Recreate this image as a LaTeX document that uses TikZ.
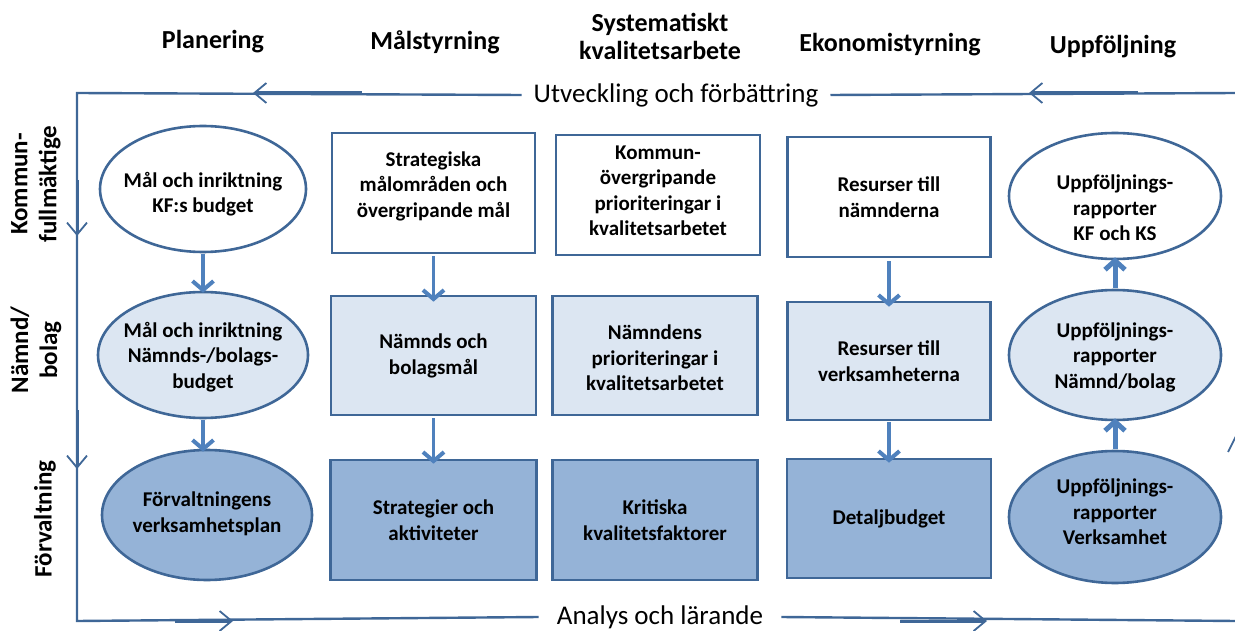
\documentclass[tikz,border=0pt]{standalone}
\usepackage{fontspec}
\setmainfont{Carlito}
\usetikzlibrary{shapes.geometric,arrows.meta}
\definecolor{linec}{HTML}{3F6797}
\definecolor{arrc}{HTML}{4F81BD}
\definecolor{lightf}{HTML}{DCE6F2}
\definecolor{midf}{HTML}{95B3D7}
\tikzset{
  boxtxt/.style={font=\bfseries\fontsize{21}{25.5}\selectfont, align=center, text=black, inner sep=0pt},
  ell/.style={ellipse, draw=linec, line width=2.6pt, inner sep=0pt},
  rbox/.style={rectangle, draw=linec, line width=2.6pt, inner sep=0pt},
  wfill/.style={fill=white},
  lfill/.style={fill=lightf},
  mfill/.style={fill=midf},
  hdr/.style={font=\bfseries\fontsize{26}{28}\selectfont, align=center},
  rowlab/.style={font=\bfseries\fontsize{25}{29}\selectfont, align=center, rotate=90},
  flow/.style={draw=arrc, line width=3.5pt, -{Straight Barb[length=9pt,width=21pt,line width=4pt]}},
  bigflow/.style={draw=arrc, line width=5pt, -{Straight Barb[length=9pt,width=20pt,line width=5pt]}},
  frame/.style={draw=linec, line width=2.4pt},
  framearr/.style={draw=linec, line width=3pt, -{Straight Barb[length=12pt,width=20pt,line width=1.8pt]}},
  looplab/.style={font=\fontsize{27}{30}\selectfont, inner ysep=12pt, inner xsep=18pt}
}
\begin{document}
\begin{tikzpicture}[x=1pt,y=-1pt]
\useasboundingbox (0,0) rectangle (1235,631);

% headers
\node[hdr] (h1) at (213,42) {Planering};
\node[hdr] (h2) at (435,42) {Målstyrning};
\node[hdr] (h3) at (660,36) {Systematiskt\\kvalitetsarbete};
\node[hdr] (h4) at (890,45) {Ekonomistyrning};
\node[hdr] (h5) at (1113,47) {Uppföljning};

% row labels
\node[rowlab] (r1) at (36,184) {Kommun-\\fullmäktige};
\node[rowlab] (r2) at (36,350) {Nämnd/\\bolag};
\node[rowlab] (r3) at (45,519) {Förvaltning};

% frame
\coordinate (tl) at (77,93);
\coordinate (bl) at (77,621);
\coordinate (tr) at (1236,93);
\coordinate (br) at (1236,621);
\node[looplab, inner xsep=12pt] (utv) at (676,95) {Utveckling och förbättring};
\node[looplab] (ana) at (660,617) {Analys och lärande};
\draw[frame] (utv.west) -- (tl) -- (bl) -- (ana.west);
\draw[frame] (utv.east) -- (tr);
\draw[frame] (ana.east) -- (br);
\draw[framearr] (362,93) -- (253,93);
\draw[framearr] (1138,93) -- (1029,93);
\draw[framearr] (175,621) -- (233,621);
\draw[framearr] (900,621) -- (987,621);
\draw[framearr] (77,180) -- (77,236);
\draw[framearr] (77,410) -- (77,469);
\coordinate (rf1) at (1228,452);
\coordinate (rf2) at (1236,436);
\draw[draw=linec, line width=1.8pt] (rf1) -- (rf2);

% row 1
\node[ell, wfill, minimum width=206pt, minimum height=126pt] (e1) at (203,189) {};
\node[boxtxt] (e1t) at (203,194) {Mål och inriktning\\KF:s budget};
\node[rbox, wfill, minimum width=203pt, minimum height=120pt] (b12) at (433.5,193) {};
\node[boxtxt] (b12t) at (433.5,186) {Strategiska\\målområden och\\övergripande mål};
\node[rbox, wfill, minimum width=204pt, minimum height=120pt] (b13) at (658,195) {};
\node[boxtxt] (b13t) at (658,191) {Kommun-\\övergripande\\prioriteringar i\\kvalitetsarbetet};
\node[rbox, wfill, minimum width=203pt, minimum height=120pt] (b14) at (889,197) {};
\node[boxtxt] (b14t) at (889,197) {Resurser till\\nämnderna};
\node[ell, wfill, minimum width=212pt, minimum height=126pt] (e15) at (1115,196) {};
\node[boxtxt] (e15t) at (1115,208) {Uppföljnings-\\rapporter\\KF och KS};

% row 2
\node[ell, lfill, minimum width=210pt, minimum height=126pt] (e2) at (203,355) {};
\node[boxtxt] (e2t) at (203,357) {Mål och inriktning\\Nämnds-/bolags-\\budget};
\node[rbox, lfill, minimum width=205pt, minimum height=119pt] (b22) at (433.5,355.5) {};
\node[boxtxt] (b22t) at (433.5,356) {Nämnds och\\bolagsmål};
\node[rbox, lfill, minimum width=205pt, minimum height=119pt] (b23) at (655,355.5) {};
\node[boxtxt] (b23t) at (655,358) {Nämndens\\prioriteringar i\\kvalitetsarbetet};
\node[rbox, lfill, minimum width=203pt, minimum height=118pt] (b24) at (889,361) {};
\node[boxtxt] (b24t) at (889,361) {Resurser till\\verksamheterna};
\node[ell, lfill, minimum width=212pt, minimum height=130pt] (e25) at (1115,355) {};
\node[boxtxt] (e25t) at (1115,357) {Uppföljnings-\\rapporter\\Nämnd/bolag};

% row 3
\node[ell, mfill, minimum width=210pt, minimum height=130pt] (e3) at (207,515) {};
\node[boxtxt] (e3t) at (207,514) {Förvaltningens\\verksamhetsplan};
\node[rbox, mfill, minimum width=206pt, minimum height=120pt] (b32) at (433.5,520) {};
\node[boxtxt] (b32t) at (433.5,520) {Strategier och\\aktiviteter};
\node[rbox, mfill, minimum width=205pt, minimum height=120pt] (b33) at (655,520) {};
\node[boxtxt] (b33t) at (655,520) {Kritiska\\kvalitetsfaktorer};
\node[rbox, mfill, minimum width=204pt, minimum height=119pt] (b34) at (889,518.5) {};
\node[boxtxt] (b34t) at (889,518.5) {Detaljbudget};
\node[ell, mfill, minimum width=212pt, minimum height=132pt] (e35) at (1115,517) {};
\node[boxtxt] (e35t) at (1115,512) {Uppföljnings-\\rapporter\\Verksamhet};

% flows
\draw[flow] ([yshift=-1pt]e1.south) -- ([yshift=-2pt]e1.south |- e2.north);
\draw[flow] ([yshift=-1pt]e2.south) -- ([yshift=-3pt]e2.south |- e3.north);
\draw[flow] ([yshift=-2pt]b12.south) -- ([yshift=-7pt]b22.north);
\draw[flow] ([yshift=-2pt]b22.south) -- ([yshift=-5pt]b32.north);
\draw[flow] ([yshift=-3pt]b14.south) -- ([yshift=-6pt]b24.north);
\draw[flow] ([yshift=-1pt]b24.south) -- ([yshift=-5pt]b34.north);
\draw[bigflow] ([yshift=1pt]e35.north) -- ([yshift=3pt]e25.south);
\draw[bigflow] ([yshift=1pt]e25.north) -- ([yshift=3pt]e15.south);
\end{tikzpicture}
\end{document}
